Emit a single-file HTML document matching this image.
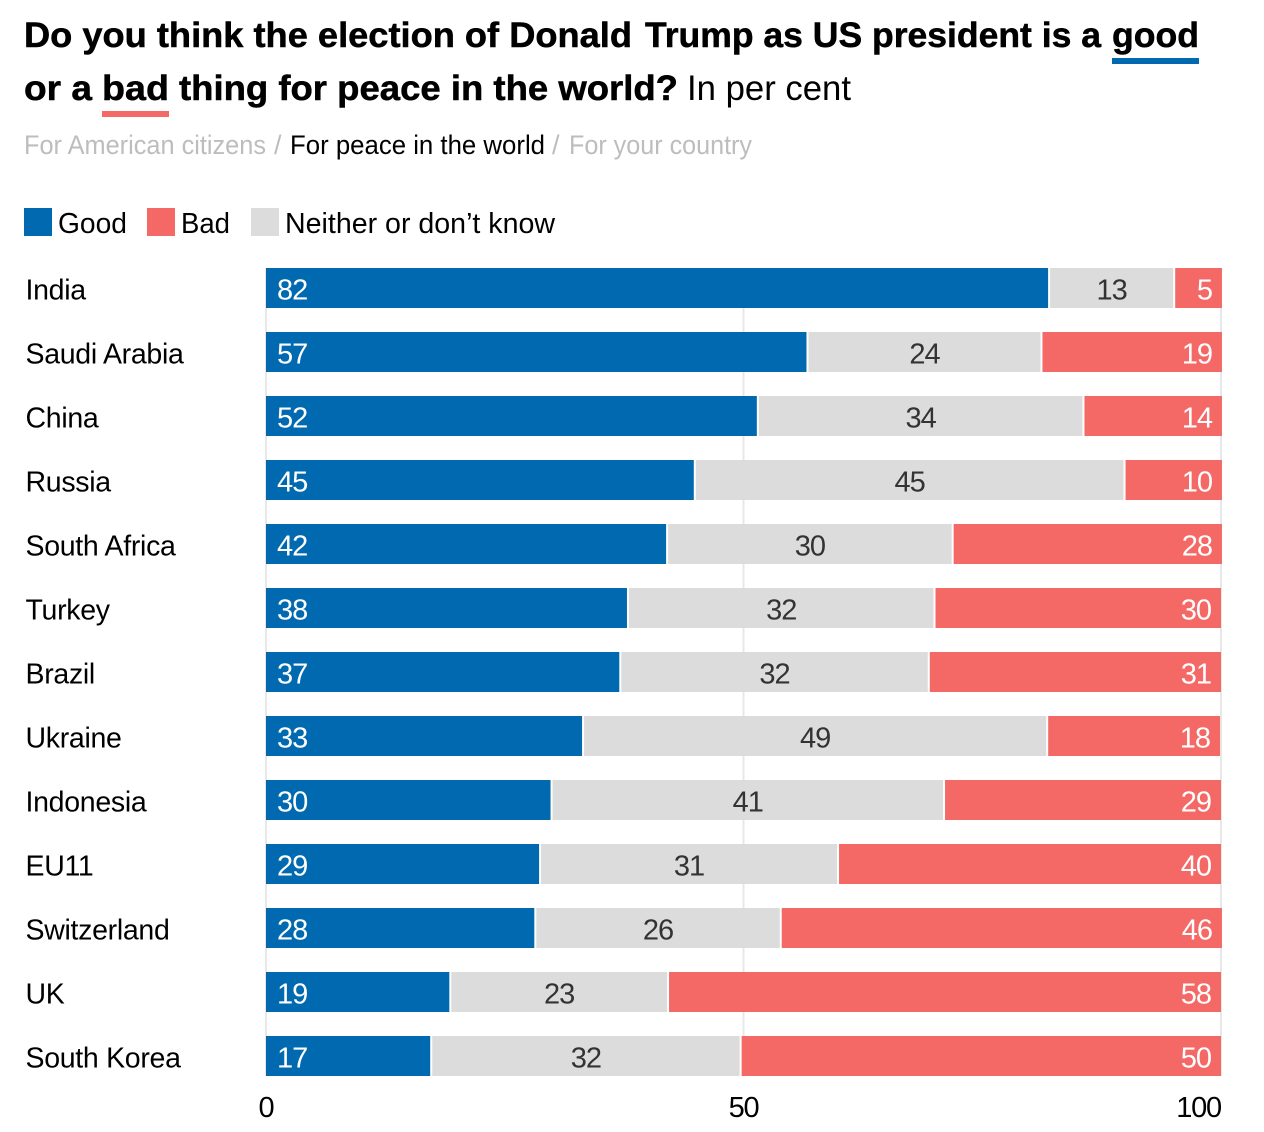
<!DOCTYPE html>
<html lang="en">
<head>
<meta charset="utf-8">
<title>Election of Donald Trump: good or bad for peace in the world</title>
<style>
html,body{margin:0;padding:0;background:#fff;}
svg{display:block;font-family:"Liberation Sans",Arial,sans-serif;}
.title{font-size:35px;font-weight:700;fill:#000;stroke:#000;stroke-width:.5px;}
.sub{font-size:27px;}
.legend{font-size:29px;fill:#000;}
.cat{font-size:28.5px;fill:#000;letter-spacing:-.3px;}
.val{font-size:29px;letter-spacing:-1px;}
.tick{font-size:29px;fill:#000;letter-spacing:-1.2px;}
</style>
</head>
<body>
<svg id="chart" width="1264" height="1132" viewBox="0 0 1264 1132" xmlns="http://www.w3.org/2000/svg">
  <g>
    <text class="title" x="24" y="47" textLength="608" lengthAdjust="spacingAndGlyphs">Do you think the election of Donald</text>
    <text class="title" x="645" y="47" textLength="456" lengthAdjust="spacingAndGlyphs">Trump as US president is a</text>
    <text class="title" x="1112" y="47" textLength="87" lengthAdjust="spacingAndGlyphs">good</text>
    <rect x="1112" y="58" width="87" height="6" fill="#0069af"/>
    <text class="title" x="24" y="100" textLength="68" lengthAdjust="spacingAndGlyphs">or a</text>
    <text class="title" x="102" y="100" textLength="67" lengthAdjust="spacingAndGlyphs">bad</text>
    <rect x="102" y="111" width="67" height="6" fill="#f46866"/>
    <text class="title" x="179" y="100" textLength="499" lengthAdjust="spacingAndGlyphs">thing for peace in the world?</text>
    <text x="687" y="100" font-size="35" fill="#000" textLength="164" lengthAdjust="spacingAndGlyphs">In per cent</text>
  </g>
  <g>
    <text class="sub" x="24" y="154" fill="#bdbdbd" textLength="242" lengthAdjust="spacingAndGlyphs">For American citizens</text>
    <text class="sub" x="274" y="154" fill="#bdbdbd">/</text>
    <text class="sub" x="290" y="154" fill="#000" textLength="255" lengthAdjust="spacingAndGlyphs">For peace in the world</text>
    <text class="sub" x="552" y="154" fill="#bdbdbd">/</text>
    <text class="sub" x="569" y="154" fill="#bdbdbd" textLength="183" lengthAdjust="spacingAndGlyphs">For your country</text>
  </g>
  <g>
    <rect x="24" y="208" width="28" height="28" fill="#0069af"/>
    <text class="legend" x="58" y="233" textLength="69" lengthAdjust="spacingAndGlyphs">Good</text>
    <rect x="147" y="208" width="28" height="28" fill="#f46866"/>
    <text class="legend" x="181" y="233" textLength="49" lengthAdjust="spacingAndGlyphs">Bad</text>
    <rect x="251" y="208" width="28" height="28" fill="#dcdcdc"/>
    <text class="legend" x="285" y="233" textLength="270" lengthAdjust="spacingAndGlyphs">Neither or don’t know</text>
  </g>
  <g id="grid"></g>
  <g id="bars"></g>
  <g id="axis"></g>
</svg>
<script>
var categories = ["India","Saudi Arabia","China","Russia","South Africa","Turkey","Brazil","Ukraine","Indonesia","EU11","Switzerland","UK","South Korea"];
var goodValues = [82.0,56.7,51.5,44.9,42.0,37.9,37.1,33.2,29.9,28.7,28.2,19.3,17.3];
var neitherValues = [13.1,24.5,34.1,45.0,29.9,32.1,32.3,48.6,41.1,31.2,25.7,22.8,32.4];
var badValues = [5.0,18.9,14.5,10.2,28.2,30.0,30.6,18.1,29.0,40.1,46.2,57.9,50.3];
var goodLabels = ["82","57","52","45","42","38","37","33","30","29","28","19","17"];
var neitherLabels = ["13","24","34","45","30","32","32","49","41","31","26","23","32"];
var badLabels = ["5","19","14","10","28","30","31","18","29","40","46","58","50"];
var tickValues = [0,50,100];
var tickLabels = ["0","50","100"];

var NS = "http://www.w3.org/2000/svg";
var plotLeft = 266, plotWidth = 955, rowTop = 268, rowStep = 64, barHeight = 40;
var COLOR_GOOD = "#0069af", COLOR_NEITHER = "#dcdcdc", COLOR_BAD = "#f46866";

function xScale(v){ return plotLeft + v * plotWidth / 100; }
function yScale(i){ return rowTop + i * rowStep; }

function makeRect(parent, x, y, w, h, fill){
  var r = document.createElementNS(NS, "rect");
  r.setAttribute("x", x);
  r.setAttribute("y", y);
  r.setAttribute("width", Math.max(0, w));
  r.setAttribute("height", h);
  r.setAttribute("fill", fill);
  parent.appendChild(r);
  return r;
}
function makeText(parent, cls, x, y, anchor, fill, str){
  var t = document.createElementNS(NS, "text");
  t.setAttribute("class", cls);
  t.setAttribute("x", x);
  t.setAttribute("y", y);
  t.setAttribute("text-anchor", anchor);
  if (fill) t.setAttribute("fill", fill);
  t.textContent = str;
  parent.appendChild(t);
  return t;
}

var gridG = document.getElementById("grid");
var axisG = document.getElementById("axis");
var barsG = document.getElementById("bars");
var plotBottom = yScale(categories.length - 1) + barHeight;

tickValues.forEach(function(v, i){
  var line = makeRect(gridG, xScale(v) - 1, rowTop, 2, plotBottom - rowTop, "#e8e8e8");
  
  
  var anchor = i === tickValues.length - 1 ? "end" : "middle";
  var label = makeText(axisG, "tick", xScale(v), plotBottom + 41, anchor, null, tickLabels[i]);
  
  
});

categories.forEach(function(name, i){
  var slug = name.toLowerCase().replace(/\s+/g, "-");
  var y = yScale(i), base = y + 31.5;
  var g = goodValues[i], n = neitherValues[i], b = badValues[i];
  var x0 = xScale(0), x1 = xScale(g), x2 = xScale(g + n), x3 = xScale(g + n + b);

  var cat = makeText(barsG, "cat", 25.5, base, "start", null, name);
  
  

  var rg = makeRect(barsG, x0, y, x1 - x0 - 1, barHeight, COLOR_GOOD);
  
  

  var rn = makeRect(barsG, x1 + 1, y, x2 - x1 - 2, barHeight, COLOR_NEITHER);
  
  

  var rb = makeRect(barsG, x2 + 1, y, x3 - x2 - 1, barHeight, COLOR_BAD);
  
  

  var tg = makeText(barsG, "val", x0 + 11, base, "start", "#fff", goodLabels[i]);
  
  

  var tn = makeText(barsG, "val", (x1 + x2) / 2, base, "middle", "#333", neitherLabels[i]);
  
  

  var tb = makeText(barsG, "val", x3 - 10, base, "end", "#fff", badLabels[i]);
  
  
});
</script>
</body>
</html>
